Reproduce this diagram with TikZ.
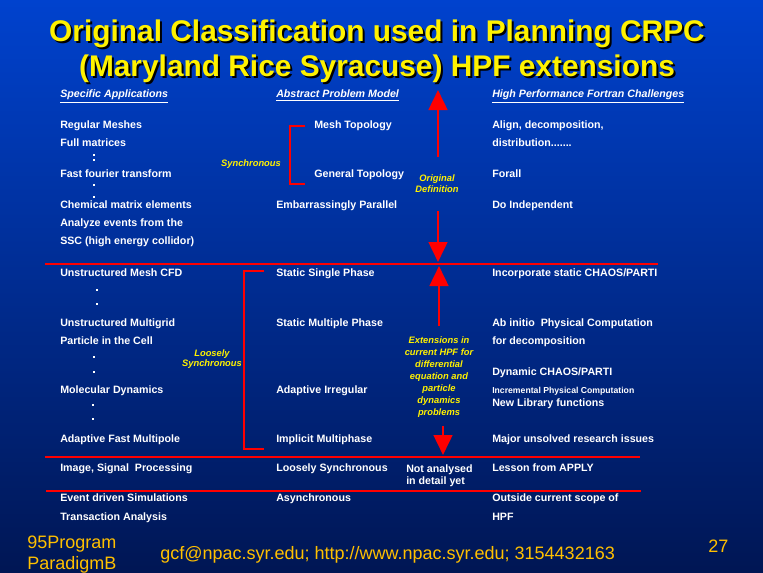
\documentclass[tikz,border=0pt]{standalone}
\usepackage{fontspec}
\setmainfont{Liberation Sans}
\usetikzlibrary{arrows.meta}

\definecolor{slidetop}{RGB}{0,66,206}
\definecolor{slidebottom}{RGB}{0,22,84}
\definecolor{footgold}{RGB}{255,192,0}

\tikzset{
    cell/.style={anchor=west, inner sep=0pt, text=white, text height=5.7pt, text depth=0pt,
        font=\fontsize{8pt}{9pt}\selectfont\bfseries},
    tinycell/.style={cell, text height=4.7pt, font=\fontsize{6.5pt}{8pt}\selectfont\bfseries},
    colhead/.style={cell, font=\fontsize{8pt}{9pt}\selectfont\bfseries\itshape},
    note/.style={inner sep=0pt, text=yellow, align=center,
        font=\fontsize{7pt}{9pt}\selectfont\bfseries\itshape},
    redline/.style={red, line width=1.6pt},
    bracket/.style={red, line width=1.6pt},
    redarrow/.style={red, line width=2pt, -{Triangle[width=14pt,length=15pt]}},
    slidetitle/.style={inner sep=0pt, text height=16pt, text depth=0pt,
        font=\fontsize{22.4pt}{27pt}\selectfont\bfseries},
    footer/.style={anchor=west, inner sep=0pt, text=footgold, text height=9.6pt, text depth=0pt,
        font=\fontsize{13.5pt}{15pt}\selectfont},
}

% one column of table entries: name prefix, x, list of y/text
\newcommand{\fillcolumn}[3]{
    \foreach \y/\t [count=\i] in {#3} {
        \node[cell] (#1\i) at (#2, \y) {\t};
    }
}

\begin{document}
\begin{tikzpicture}[x=0.75pt, y=-0.75pt]

    %% Background
    \useasboundingbox (0,0) rectangle (763,572);
    \shade[top color=slidetop, bottom color=slidebottom] (0,0) rectangle (763,572);

    %% Title with shadow
    \node[slidetitle, text=black] (title1s) at (379,33) {Original Classification used in Planning CRPC};
    \node[slidetitle, text=yellow] (title1) at (377,31) {Original Classification used in Planning CRPC};
    \node[slidetitle, text=black] (title2s) at (379,68) {(Maryland Rice Syracuse) HPF extensions};
    \node[slidetitle, text=yellow] (title2) at (377,66) {(Maryland Rice Syracuse) HPF extensions};

    %% Column heads
    \node[colhead] (headapp) at (60,94) {\underline{Specific Applications}};
    \node[colhead] (headmodel) at (276,94) {\underline{Abstract Problem Model}};
    \node[colhead] (headhpf) at (492,94) {\underline{High Performance Fortran Challenges}};

    %% Applications
    \fillcolumn{app}{60}{125/Regular Meshes, 143/Full matrices, 174/Fast fourier transform,
        205/Chemical matrix elements, 223/Analyze events from the, 241/SSC (high energy collidor),
        273/Unstructured Mesh CFD, 323/Unstructured Multigrid, 341/Particle in the Cell,
        390/Molecular Dynamics, 439/Adaptive Fast Multipole, 468/{Image, Signal\ \ Processing},
        498/Event driven Simulations, 517/Transaction Analysis}
    \foreach \x/\y in {94/155, 94/160, 94/185, 94/197, 97/290, 97/304, 94/357, 94/372, 93/405, 93/419}
        \fill[white] (\x-1.2,\y-1) rectangle (\x+1.2,\y+1);

    %% Problem models
    \node[cell] (mesh) at (314,125) {Mesh Topology};
    \node[cell] (general) at (314,174) {General Topology};
    \fillcolumn{model}{276}{205/Embarrassingly Parallel, 273/Static Single Phase,
        323/Static Multiple Phase, 390/Adaptive Irregular, 439/Implicit Multiphase,
        468/Loosely Synchronous, 498/Asynchronous}
    \node[cell] (notyet) at (406,469) {Not analysed};
    \node[cell] (notyet2) at (406,481) {in detail yet};

    %% HPF challenges
    \fillcolumn{hpf}{492}{125/{Align, decomposition,}, 174/Forall,
        205/Do Independent, 273/{Incorporate static CHAOS/PARTI},
        323/Ab initio\ \ Physical Computation, 341/for decomposition, 372/{Dynamic CHAOS/PARTI},
        403/New Library functions, 439/Major unsolved research issues, 468/Lesson from APPLY,
        498/Outside current scope of, 517/HPF}
    \node[cell] (distribution) at (492,143) {distribution.......};
    \node[tinycell] (incremental) at (492,390) {Incremental Physical Computation};

    %% Brackets
    \draw[bracket] (305,126) -- (290,126) -- (290,184) -- (305,184);
    \node[note] (sync) at (251,164) {Synchronous};
    \draw[bracket] (264,271) -- (244,271) -- (244,449) -- (264,449);
    \node[note, font=\fontsize{7pt}{7.6pt}\selectfont\bfseries\itshape] (loose) at (212,359) {Loosely\\Synchronous};

    %% Separators
    \draw[redline] (45,264) -- (658,264);
    \draw[redline] (45,457) -- (640,457);
    \draw[redline] (46,491) -- (641,491);

    %% Arrows
    \coordinate (origup) at (438,157);
    \coordinate (origtop) at (438,90);
    \coordinate (origdown) at (438,211);
    \coordinate (origbottom) at (438,262);
    \draw[redarrow] (origup) -- (origtop);
    \draw[redarrow] (origdown) -- (origbottom);
    \node[note, font=\fontsize{7pt}{8.2pt}\selectfont\bfseries\itshape] (origdef) at (437,183.5) {Original\\Definition};

    \coordinate (extup) at (439,326);
    \coordinate (exttop) at (439,266);
    \coordinate (extdown) at (443,426);
    \coordinate (extbottom) at (443,455);
    \draw[redarrow] (extup) -- (exttop);
    \draw[redarrow] (extdown) -- (extbottom);
    \node[note] (ext) at (439,377) {Extensions in\\current HPF for\\differential\\equation and\\particle\\dynamics\\problems};

    %% Footer
    \node[footer] (prog1) at (27,542) {95Program};
    \node[footer] (prog2) at (27,563) {ParadigmB};
    \node[footer] (contact) at (160,553) {gcf@npac.syr.edu; http://www.npac.syr.edu; 3154432163};
    \node[footer] (page) at (708,546) {27};

\end{tikzpicture}
\end{document}
